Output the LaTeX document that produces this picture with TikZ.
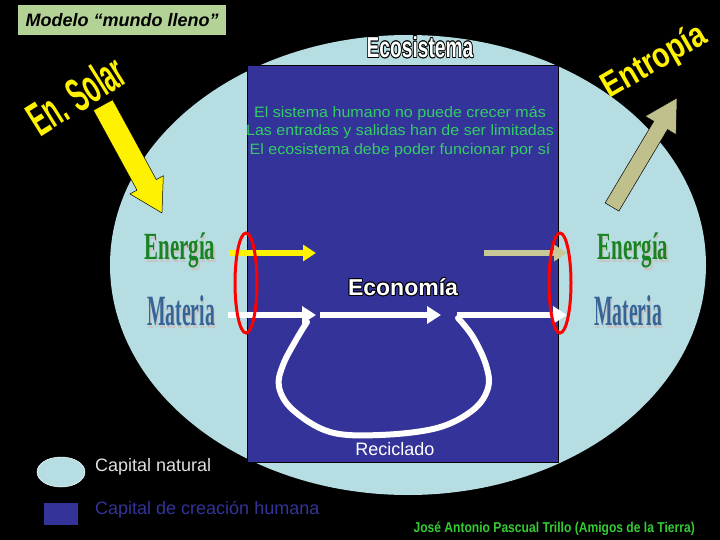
\documentclass[tikz,border=0pt]{standalone}
\usepackage{fontspec}
\setmainfont{Liberation Sans}
\newfontfamily\serifb{Liberation Serif}
\usetikzlibrary{arrows.meta}
\definecolor{natblue}{RGB}{182,221,225}
\definecolor{humblue}{RGB}{51,51,153}
\definecolor{titlegreen}{RGB}{178,210,150}
\definecolor{txtgreen}{RGB}{51,204,102}
\definecolor{enggreen}{RGB}{25,130,35}
\definecolor{matblue}{RGB}{55,100,150}
\definecolor{khaki}{RGB}{200,200,150}
\definecolor{entkhaki}{RGB}{192,192,140}
\definecolor{authgreen}{RGB}{51,204,51}
\newcommand\outlinedtext[1]{\leavevmode
 \rlap{\color{black}\hspace{-1pt}#1}\rlap{\color{black}\hspace{1pt}#1}%
 \rlap{\color{black}\raisebox{1pt}{#1}}\rlap{\color{black}\raisebox{-1pt}{#1}}%
 \rlap{\color{black}\hspace{0.7pt}\raisebox{0.7pt}{#1}}\rlap{\color{black}\hspace{-0.7pt}\raisebox{0.7pt}{#1}}%
 \rlap{\color{black}\hspace{0.7pt}\raisebox{-0.7pt}{#1}}\rlap{\color{black}\hspace{-0.7pt}\raisebox{-0.7pt}{#1}}%
 {\color{white}#1}}
\newcommand\shadowed[2]{\leavevmode\rlap{\color{gray!45}\hspace{1.5pt}\raisebox{-1.5pt}{#2}}{\color{#1}#2}}
\tikzset{
  fatarrow/.style={draw=black, line width=0.5pt},
  whitearrow/.style={draw=white, line width=6pt, -{Triangle[length=14pt,width=17pt]}},
  lbl/.style={inner sep=0pt, anchor=center},
  redring/.style={draw=red, line width=3pt},
}
\begin{document}
\begin{tikzpicture}[x=1pt,y=-1pt]
\fill[black] (0,0) rectangle (720,540);
\useasboundingbox (0,0) rectangle (720,540);
% ecosystem
\fill[natblue] (408,265) ellipse [x radius=298pt, y radius=230pt];
\filldraw[fill=humblue, draw=black, line width=0.7pt] (247,65) rectangle (558,462);
% title
\node[fill=titlegreen, minimum width=208pt, minimum height=30pt, inner sep=0pt, anchor=north west,
  font=\fontsize{18}{20}\selectfont\bfseries\itshape] (title) at (18,5) {Modelo “mundo lleno”};
\node[lbl, font=\fontsize{24}{26}\selectfont\bfseries] (eco) at (420,47) {\scalebox{0.8}[1.2]{\outlinedtext{Ecosistema}}};
\node[lbl, text=txtgreen, align=center, font=\fontsize{15}{18.5}\selectfont] (msg) at (400,132)
  {\scalebox{1.07}[1]{El sistema humano no puede crecer más}\\\scalebox{1.07}[1]{Las entradas y salidas han de ser limitadas}\\\scalebox{1.07}[1]{El ecosistema debe poder funcionar por sí}};
% solar
\node[lbl, text=yellow, rotate=32, font=\fontsize{28}{30}\selectfont\bfseries] (solar) at (76,95) {\scalebox{0.85}[1.7]{En. Solar}};
\begin{scope}[shift={(103,105)}, rotate=-61.35]
\filldraw[fatarrow, fill=yellow] (0,-11) -- (91,-11) -- (91,-19) -- (123,0) -- (91,19) -- (91,11) -- (0,11) -- cycle;
\end{scope}
% entropy
\node[lbl, text=yellow, rotate=30, font=\fontsize{27}{30}\selectfont\bfseries] (entro) at (655,62) {\scalebox{1.05}[1.3]{Entropía}};
\begin{scope}[shift={(612,207)}, rotate=59.2]
\filldraw[fatarrow, fill=entkhaki] (0,-8) -- (95,-8) -- (95,-18) -- (127,0) -- (95,18) -- (95,8) -- (0,8) -- cycle;
\end{scope}
% labels
\node[lbl, font=\serifb\fontsize{24}{26}\selectfont\bfseries] (enL) at (180,252) {\scalebox{0.87}[1.6]{\shadowed{enggreen}{Energía}}};
\node[lbl, font=\serifb\fontsize{24}{26}\selectfont\bfseries] (maL) at (181,312) {\scalebox{0.82}[1.8]{\shadowed{matblue}{Materia}}};
\node[lbl, font=\serifb\fontsize{24}{26}\selectfont\bfseries] (enR) at (633,252) {\scalebox{0.87}[1.6]{\shadowed{enggreen}{Energía}}};
\node[lbl, font=\serifb\fontsize{24}{26}\selectfont\bfseries] (maR) at (628,312) {\scalebox{0.82}[1.8]{\shadowed{matblue}{Materia}}};
\node[lbl, font=\fontsize{23}{25}\selectfont\bfseries] (econ) at (403,287) {\outlinedtext{Economía}};
\node[lbl, text=white, font=\fontsize{18}{20}\selectfont] (recic) at (395,449) {Reciclado};
% flows
\coordinate (eIn) at (229,253); \coordinate (eInT) at (316,253);
\coordinate (eOut) at (484,253); \coordinate (eOutT) at (567,253);
\coordinate (m0) at (228,315); \coordinate (m1) at (316,315);
\coordinate (m2) at (320,315); \coordinate (m3) at (441,315);
\coordinate (m4) at (457,315); \coordinate (m5) at (567,315);
\draw[draw=yellow, line width=6pt, -{Triangle[length=13pt,width=16pt]}] (eIn) -- (eInT);
\draw[draw=khaki, line width=6pt, -{Triangle[length=13pt,width=16pt]}] (eOut) -- (eOutT);
\draw[whitearrow] (m0) -- (m1);
\draw[whitearrow] (m2) -- (m3);
\draw[whitearrow] (m4) -- (m5);
\draw[white, line width=6pt, line cap=round] plot[smooth, tension=0.6] coordinates
  {(458,318) (473,337) (486,365) (488,388) (473,410) (437,428) (380,435) (330,432) (293,410) (279,387) (283,365) (296,340) (307,322)};
% red rings
\draw[redring] (246,283) ellipse [x radius=11pt, y radius=50pt];
\draw[redring] (560,283) ellipse [x radius=11pt, y radius=50pt];
% legend
\filldraw[fill=natblue, draw=white, line width=0.5pt] (61,472) ellipse [x radius=24pt, y radius=15pt];
\node[lbl, anchor=west, text=white!88!black, font=\fontsize{18}{20}\selectfont] (lg1) at (95,467) {Capital natural};
\fill[humblue] (44,503) rectangle (78,525);
\node[lbl, anchor=west, text=humblue, font=\fontsize{18}{20}\selectfont] (lg2) at (95,510) {Capital de creación humana};
\node[lbl, anchor=east, text=authgreen, font=\fontsize{13}{15}\selectfont\bfseries] (auth) at (695,529) {\scalebox{0.93}[1.1]{José Antonio Pascual Trillo (Amigos de la Tierra)}};
\end{tikzpicture}
\end{document}
